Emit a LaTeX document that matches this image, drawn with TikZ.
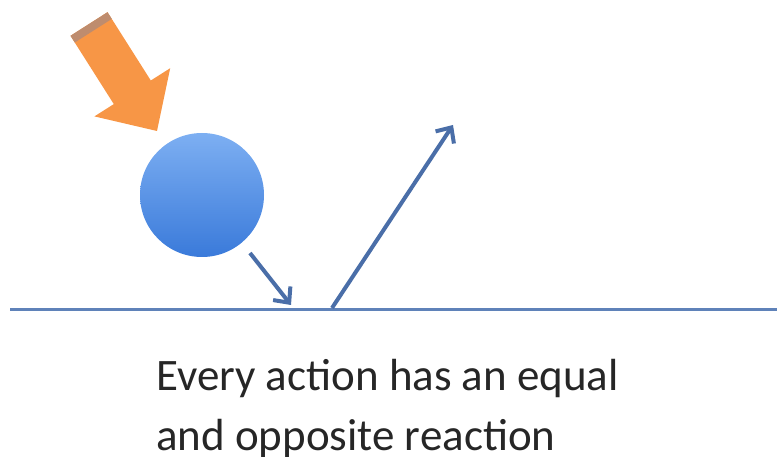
\documentclass[tikz,border=0pt]{standalone}
\usepackage{fontspec}
\setmainfont{Carlito}
\usetikzlibrary{arrows.meta}
\definecolor{orangeA}{RGB}{247,150,70}
\definecolor{orangeB}{RGB}{190,140,110}
\definecolor{ballTop}{RGB}{125,175,242}
\definecolor{ballBot}{RGB}{58,122,218}
\definecolor{arrowblue}{RGB}{74,110,168}
\definecolor{groundblue}{RGB}{95,130,185}
\tikzset{
  vec/.style={draw=arrowblue, line width=4pt, -{Straight Barb[length=12pt,width=22pt,line width=4pt]}},
  label/.style={font=\fontsize{45}{54}\selectfont, anchor=base west, inner sep=0pt, text=black!85}
}
\begin{document}
\begin{tikzpicture}[x=1pt,y=-1pt]
\useasboundingbox (0,0) rectangle (777,457);
% orange block arrow
\fill[orangeA]
  (70.5,35.8) -- (107.5,12.2) -- (150.8,80.5) -- (170.2,68.2) -- (157,131) -- (94.4,116.4) -- (113.8,104.1) -- cycle;
\fill[orangeB] (70.5,35.8) -- (107.5,12.2) -- (111.8,18.9) -- (74.8,42.5) -- cycle;
% ball
\shade[top color=ballTop, bottom color=ballBot] (202,195) circle (62);
\coordinate (ball) at (250,253);
\coordinate (hit) at (291,305);
\coordinate (bounce) at (332,308);
\coordinate (up) at (453,125);
\coordinate (gl) at (10,310);
\coordinate (gr) at (777,310);
\draw[groundblue, line width=3pt] (gl) -- (gr);
\draw[vec] (ball) -- (hit);
\draw[vec] (bounce) -- (up);
\node[label] (l1) at (156,390) {Every action has an equal};
\node[label] (l2) at (156,450) {and opposite reaction};
\end{tikzpicture}
\end{document}
